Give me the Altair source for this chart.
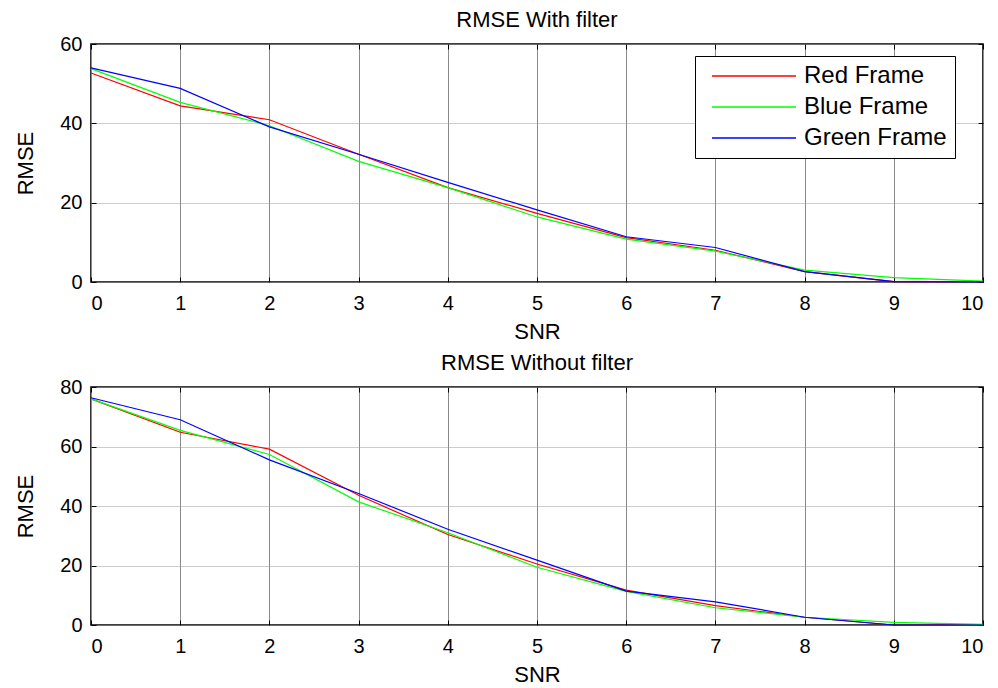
import altair as alt
import pandas as pd

# ---------------- data ----------------
snr = list(range(11))
series_names = ["Red Frame", "Blue Frame", "Green Frame"]
series_colors = ["#ff0000", "#00ff00", "#0000ff"]

with_red = [52.7, 44.4, 40.9, 32.2, 23.8, 17.3, 11.2, 8.0, 2.6, 0.1, 0.0]
with_bluef = [53.8, 45.3, 39.4, 30.4, 23.8, 16.4, 10.8, 7.8, 3.0, 1.1, 0.2]
with_greenf = [54.0, 48.8, 39.1, 32.2, 25.1, 18.2, 11.4, 8.7, 2.6, 0.1, 0.0]

wo_red = [76.0, 64.8, 59.1, 43.6, 30.4, 20.5, 11.7, 6.5, 2.6, 0.0, 0.0]
wo_bluef = [76.0, 65.4, 57.3, 41.4, 31.0, 19.4, 11.3, 5.8, 2.6, 0.9, 0.2]
wo_greenf = [76.4, 69.0, 55.5, 44.2, 32.2, 21.8, 11.4, 7.8, 2.6, 0.0, 0.0]

top_yticks = [0, 20, 40, 60]
bot_yticks = [0, 20, 40, 60, 80]

FONT = "Liberation Sans"
LBL = dict(labelFont=FONT, labelFontSize=20, labelColor="black",
           titleFont=FONT, titleFontSize=22, titleFontWeight="normal", titleColor="black")


def make_df(vals_list):
    rows = []
    for name, vals in zip(series_names, vals_list):
        for s, v in zip(snr, vals):
            rows.append({"SNR": s, "RMSE": v, "series": name})
    return pd.DataFrame(rows)


def tick_axis(orient, values):
    return alt.Axis(orient=orient, offset=-5, values=values, labels=False, grid=False,
                    domain=False, ticks=True, tickSize=5, tickColor="black", tickWidth=1)


def panel(df, title, ymax, yticks):
    xscale = alt.Scale(domain=[0, 10], nice=False, zero=False)
    yscale = alt.Scale(domain=[0, ymax], nice=False)
    color = alt.Color(
        "series:N",
        sort=series_names,
        scale=alt.Scale(domain=series_names, range=series_colors),
        legend=alt.Legend(
            title=None, orient="none", legendX=604, legendY=12,
            direction="vertical",
            symbolType="M-4,0H4", symbolSize=441, symbolStrokeWidth=1.5,
            symbolOffset=39, labelOffset=38,
            labelFont=FONT, labelFontSize=24, labelColor="black",
            strokeColor="black", fillColor="white", padding=8, rowPadding=7,
        ),
    )
    base = alt.Chart(df)
    main = base.mark_line(strokeWidth=1.2).encode(
        x=alt.X("SNR:Q", scale=xscale, title="SNR",
                axis=alt.Axis(values=snr, format="d", grid=True, ticks=False, domain=False,
                              gridColor="#8a8a8a", gridWidth=1,
                              labelPadding=11, titlePadding=8, **LBL)),
        y=alt.Y("RMSE:Q", scale=yscale, title="RMSE",
                axis=alt.Axis(values=yticks, format="d", grid=True, ticks=False, domain=False,
                              gridColor="#9a9a9a", gridWidth=1, gridDash=[1, 1],
                              labelPadding=9, titlePadding=22, **LBL)),
        color=color,
    )
    ticks_tr = base.mark_line(strokeOpacity=0).encode(
        x=alt.X("SNR:Q", scale=xscale, title=None, axis=tick_axis("top", snr)),
        y=alt.Y("RMSE:Q", scale=yscale, title=None, axis=tick_axis("right", yticks)),
        color=color,
    )
    ticks_bl = base.mark_line(strokeOpacity=0).encode(
        x=alt.X("SNR:Q", scale=xscale, title=None, axis=tick_axis("bottom", snr)),
        y=alt.Y("RMSE:Q", scale=yscale, title=None, axis=tick_axis("left", yticks)),
        color=color,
    )
    return alt.layer(main, ticks_tr, ticks_bl).resolve_axis(
        x="independent", y="independent"
    ).properties(
        width=892, height=238,
        title=alt.TitleParams(title, font=FONT, fontSize=22, fontWeight="normal",
                              color="black", anchor="middle", frame="group", offset=2),
    )


top = panel(make_df([with_red, with_bluef, with_greenf]), "RMSE With filter", 60, top_yticks)
bottom = panel(make_df([wo_red, wo_bluef, wo_greenf]), "RMSE Without filter", 80, bot_yticks)

chart = alt.vconcat(top, bottom, spacing=8).properties(
    padding={"left": 5, "top": 0, "right": 0, "bottom": 0},
    background="white",
).configure_view(
    stroke="black", strokeWidth=1.6
)

chart.save("out.html", embed_options={"renderer": "svg", "actions": False})
